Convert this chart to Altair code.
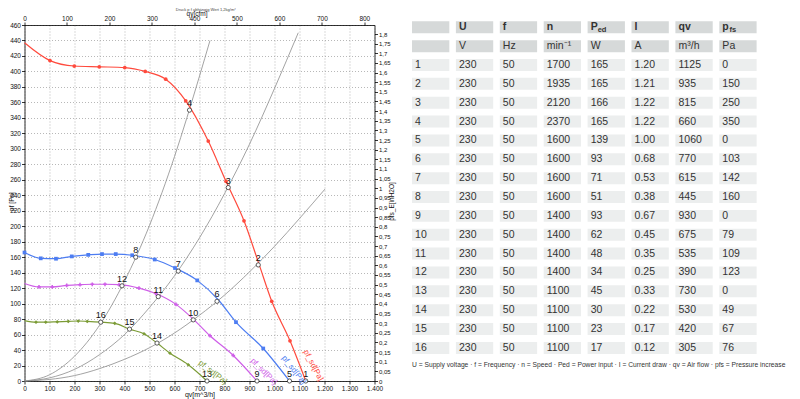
import altair as alt
import pandas as pd

# ---------------- performance curves (qv in m³/h, pf in Pa) -------------
CURVE_NAMES = ["red", "blue", "magenta", "green"]
CURVE_COLORS = ["#ff4a3d", "#4d7df2", "#cf5fe8", "#7b9b35"]
CURVE_SHAPES = ["circle", "square", "cross", "diamond"]

RED_QV = [0, 102, 199, 299, 401, 483, 565, 645, 735, 806, 878, 938, 989, 1062, 1125]
RED_P = [437, 414, 407, 406, 405, 400, 390, 362, 310, 258, 207, 151, 103, 52, 0]
RED_MK = [0, 1, 1, 1, 1, 1, 1, 1, 1, 1, 1, 0, 1, 1, 0]

BLUE_QV = [0, 65, 126, 189, 255, 310, 365, 431, 521, 602, 691, 775, 846, 955, 1060]
BLUE_P = [166, 158.5, 158, 161, 163, 164, 164, 162.5, 157, 146, 130, 105, 76, 42, 0]
BLUE_MK = [1, 1, 1, 1, 1, 1, 1, 1, 1, 1, 1, 0, 1, 1, 0]

MAG_QV = [0, 58, 111, 169, 222, 271, 322, 378, 458, 525, 606, 675, 742, 835, 930]
MAG_P = [126, 121.5, 121.5, 123.5, 124.5, 125, 125, 124.5, 120, 113, 99, 80, 58.5, 33, 0]
MAG_MK = [0, 1, 1, 1, 1, 1, 1, 1, 1, 1, 1, 0, 1, 1, 0]

GRN_QV = [0, 46, 85, 131, 175, 215, 251, 305, 361, 420, 478, 530, 582, 655, 730]
GRN_P = [78, 76, 76, 76.5, 77, 77.5, 77, 76, 74.5, 67, 61, 49, 36, 21, 0]
GRN_MK = [0, 1, 1, 1, 1, 1, 1, 0, 1, 0, 1, 0, 1, 1, 0]

# system (resistance) curves
SYS_A_QV = [0, 100, 200, 300, 400, 500, 600, 700, 742]
SYS_A_P = [0, 8, 32, 72, 129, 201, 290, 394, 440]
SYS_B_QV = [0, 100, 200, 300, 400, 500, 600, 700, 800, 900, 1000, 1095]
SYS_B_P = [0, 4, 15, 34, 60, 95, 136, 185, 242, 306, 378, 450]
SYS_C_QV = [0, 100, 200, 300, 400, 500, 600, 700, 800, 900, 1000, 1100, 1202]
SYS_C_P = [0, 2, 7, 16, 28, 43, 62, 85, 111, 141, 174, 210, 248]

# curve labels
LABEL_TEXT = "pf_sd[Pa]"
LABEL_QV = [1154, 1076, 956, 752]
LABEL_P = [20, 14, 12, 11]
LABEL_ANGLE = [62, 52, 45, 38]

# ---------------- operating point table ----------------
POINT_NO = [1, 2, 3, 4, 5, 6, 7, 8, 9, 10, 11, 12, 13, 14, 15, 16]
U_V = [230] * 16
F_HZ = [50] * 16
N_RPM = [1700, 1935, 2120, 2370, 1600, 1600, 1600, 1600, 1400, 1400, 1400, 1400, 1100, 1100, 1100, 1100]
P_ED = [165, 165, 166, 165, 139, 93, 71, 51, 93, 62, 48, 34, 45, 30, 23, 17]
I_A = ["1.20", "1.21", "1.22", "1.22", "1.00", "0.68", "0.53", "0.38", "0.67", "0.45", "0.35", "0.25",
       "0.33", "0.22", "0.17", "0.12"]
QV = [1125, 935, 815, 660, 1060, 770, 615, 445, 930, 675, 535, 390, 730, 530, 420, 305]
PFS = [0, 150, 250, 350, 0, 103, 142, 160, 0, 79, 109, 123, 0, 49, 67, 76]

HEADERS = ["", "U", "f", "n", "P", "I", "qv", "p"]
HEADER_SUB = ["", "", "", "", "ed", "", "", "fs"]
UNITS = ["", "V", "Hz", "min⁻¹", "W", "A", "m³/h", "Pa"]
FOOTER = ("U = Supply voltage · f = Frequency · n = Speed · Ped = Power input · "
          "I = Current draw · qv = Air flow · pfs = Pressure increase")
CAPTION = "Druck p f abhängig Wert 1,2kg/m³"

# ---------------- axis ticks ----------------
BOTTOM_TICKS = list(range(0, 1401, 100))
LEFT_TICKS = list(range(0, 461, 20))
TOP_TICKS = list(range(0, 801, 100))
RIGHT_TICKS = [round(0.05 * i, 2) for i in range(37)]

QV_MAX = 1400
P_MAX = 460
CFM_MAX = QV_MAX / 1.69901
INH2O_MAX = P_MAX / 249.089

AXIS_FONT = "Liberation Sans"
TABLE_FONT = "Liberation Sans Narrow, Arial Narrow, Liberation Sans, sans-serif"

# ---------------- data frames ----------------
rows = []
for name, qs, ps, mks in zip(CURVE_NAMES,
                             [RED_QV, BLUE_QV, MAG_QV, GRN_QV],
                             [RED_P, BLUE_P, MAG_P, GRN_P],
                             [RED_MK, BLUE_MK, MAG_MK, GRN_MK]):
    for q, p, m in zip(qs, ps, mks):
        rows.append({"curve": name, "qv": q, "p": p, "mk": m})
curves = pd.DataFrame(rows)

srows = []
for name, qs, ps in zip(["A", "B", "C"], [SYS_A_QV, SYS_B_QV, SYS_C_QV], [SYS_A_P, SYS_B_P, SYS_C_P]):
    for q, p in zip(qs, ps):
        srows.append({"sys": name, "qv": q, "p": p})
systems = pd.DataFrame(srows)

points = pd.DataFrame({"no": [str(n) for n in POINT_NO], "qv": QV, "p": PFS})
labels = pd.DataFrame({"curve": CURVE_NAMES, "qv": LABEL_QV, "p": LABEL_P,
                       "ang": LABEL_ANGLE, "txt": [LABEL_TEXT] * 4})

# ---------------- main plot ----------------
X_AXIS = alt.Axis(values=BOTTOM_TICKS, title="qv[m^3/h]", grid=True, gridColor="#9a9a9a",
                  gridDash=[1, 2], gridWidth=0.7, tickSize=3, labelFontSize=6.5, labelPadding=1,
                  labelOverlap=False, labelFlush=False,
                  labelExpr="datum.value >= 1000 ? replace(format(datum.value, ','), ',', '.') : format(datum.value, 'd')",
                  titleFontSize=7, titleX=175, titleY=13, titleBaseline="middle", titleAngle=0)
Y_AXIS = alt.Axis(values=LEFT_TICKS, title="pf [Pa]", grid=True, gridColor="#9a9a9a",
                  gridDash=[1, 2], gridWidth=0.7, tickSize=3, labelFontSize=6.5, labelPadding=1,
                  labelOverlap=False, labelFlush=False, format="d",
                  titleFontSize=6.5, titleX=-10.5, titleY=176, titleAngle=270,
                  titleAlign="center", titleBaseline="bottom")
X = alt.X("qv:Q", scale=alt.Scale(domain=[0, QV_MAX], nice=False, zero=False), axis=X_AXIS)
Y = alt.Y("p:Q", scale=alt.Scale(domain=[0, P_MAX], nice=False, zero=False), axis=Y_AXIS)
COLOR = alt.Color("curve:N", scale=alt.Scale(domain=CURVE_NAMES, range=CURVE_COLORS), legend=None)

sys_layer = alt.Chart(systems).mark_line(interpolate="monotone", color="#8c8c8c", strokeWidth=0.8).encode(
    x=X, y=Y, detail="sys:N")
line_layer = alt.Chart(curves).mark_line(interpolate="monotone", strokeWidth=1.2).encode(
    x=X, y=Y, color=COLOR)
marker_layer = alt.Chart(curves).transform_filter("datum.mk == 1").mark_point(
    filled=True, size=14, opacity=1).encode(
    x=X, y=Y, color=COLOR,
    shape=alt.Shape("curve:N", scale=alt.Scale(domain=CURVE_NAMES, range=CURVE_SHAPES), legend=None))
circle_layer = alt.Chart(points).mark_point(shape="circle", filled=True, fill="white", stroke="#333333",
                                            strokeWidth=0.8, size=18, opacity=1).encode(x=X, y=Y)
number_layer = alt.Chart(points).mark_text(dy=-7, fontSize=9, font=AXIS_FONT, color="#111111").encode(
    x=X, y=Y, text="no:N")
curve_label_layer = alt.Chart(labels).mark_text(fontSize=8, font=AXIS_FONT, align="center",
                                                baseline="middle").encode(
    x=X, y=Y, text="txt:N", color=COLOR, angle=alt.Angle("ang:Q", scale=None))

plot = alt.layer(sys_layer, line_layer, marker_layer, circle_layer, number_layer, curve_label_layer)

# secondary axes: cfm (top) and inH2O (right)
axes2 = alt.Chart(pd.DataFrame({"cfm": [0], "inh2o": [0]})).mark_point(opacity=0).encode(
    x=alt.X("cfm:Q", scale=alt.Scale(domain=[0, CFM_MAX], nice=False, zero=False),
            axis=alt.Axis(orient="top", values=TOP_TICKS, title="qv[cfm]", grid=False, tickSize=3,
                          labelFontSize=6.5, labelPadding=1, labelOverlap=False, labelFlush=False,
                          titleFontSize=6.5, titleX=172, titleY=-12, titleBaseline="middle")),
    y=alt.Y("inh2o:Q", scale=alt.Scale(domain=[0, INH2O_MAX], nice=False, zero=False),
            axis=alt.Axis(orient="right", values=RIGHT_TICKS, title="pfs_E[inH2O]", grid=False,
                          tickSize=3, labelFontSize=6, labelPadding=1, labelOverlap=False,
                          labelFlush=False,
                          labelExpr="replace(format(datum.value, '.2~f'), '.', ',')",
                          titleFontSize=6.5, titleX=17, titleY=176, titleAngle=270,
                          titleAlign="center", titleBaseline="middle")))

# ---------------- table ----------------
CELL_W = 0.85
CELL_H = 0.636
cells = []
for r in range(18):
    if r == 0:
        vals = HEADERS
    elif r == 1:
        vals = UNITS
    else:
        k = r - 2
        vals = [str(POINT_NO[k]), str(U_V[k]), str(F_HZ[k]), str(N_RPM[k]), str(P_ED[k]),
                I_A[k], str(QV[k]), str(PFS[k])]
    for c in range(8):
        cells.append({"c0": c, "c1": c + CELL_W, "r0": r, "r1": r + CELL_H,
                      "tx": c + 0.07, "ty": r + CELL_H / 2, "text": vals[c],
                      "bg": "#d6d9d9" if r < 2 else "#eceeee", "bold": r == 0})
cells = pd.DataFrame(cells)
subs = pd.DataFrame([{"tx": c + 0.07 + 0.16, "ty": CELL_H / 2, "text": s}
                     for c, s in enumerate(HEADER_SUB) if s])
footer = pd.DataFrame({"tx": [0.0], "ty": [18.2], "text": [FOOTER]})
caption = pd.DataFrame({"tx": [-5.38], "ty": [-0.62], "text": [CAPTION]})

TX = alt.Scale(domain=[0, 8], range=[387.5, 738.7], nice=False, zero=False)
TY = alt.Scale(domain=[0, 19], range=[-3.7, 354.6], nice=False, zero=False)
TXE = alt.X("tx:Q", scale=TX, axis=None)
TYE = alt.Y("ty:Q", scale=TY, axis=None)

rect_layer = alt.Chart(cells).mark_rect().encode(
    x=alt.X("c0:Q", scale=TX, axis=None), x2="c1:Q",
    y=alt.Y("r0:Q", scale=TY, axis=None), y2="r1:Q",
    fill=alt.Fill("bg:N", scale=None))
text_layer = alt.Chart(cells).transform_filter("!datum.bold").mark_text(
    align="left", baseline="middle", font=TABLE_FONT, fontSize=10.5, color="#333333").encode(
    x=TXE, y=TYE, text="text:N")
bold_layer = alt.Chart(cells).transform_filter("datum.bold").mark_text(
    align="left", baseline="middle", font=TABLE_FONT, fontSize=10.5, fontWeight="bold",
    color="#333333").encode(x=TXE, y=TYE, text="text:N")
sub_layer = alt.Chart(subs).mark_text(
    align="left", baseline="middle", font=TABLE_FONT, fontSize=7.5, fontWeight="bold", dy=3,
    color="#333333").encode(x=TXE, y=TYE, text="text:N")
footer_layer = alt.Chart(footer).mark_text(
    align="left", baseline="middle", font=TABLE_FONT, fontSize=6.7, color="#333333").encode(
    x=TXE, y=TYE, text="text:N")
caption_layer = alt.Chart(caption).mark_text(
    align="left", baseline="middle", font=AXIS_FONT, fontSize=4, color="#444444").encode(
    x=TXE, y=TYE, text="text:N")

table = alt.layer(rect_layer, text_layer, bold_layer, sub_layer, footer_layer, caption_layer)

chart = alt.layer(plot, axes2, table).resolve_scale(
    x="independent", y="independent"
).properties(
    width=350, height=356,
    autosize=alt.AutoSizeParams(type="none"),
    padding={"left": 16.5, "top": 17, "right": 417.5, "bottom": 18},
).configure_view(stroke=None).configure_axis(
    labelFont=AXIS_FONT, titleFont=AXIS_FONT, labelColor="#111111", titleColor="#111111",
    domainColor="#000000", tickColor="#000000", domainWidth=0.8, tickWidth=0.8,
    titleFontWeight="normal"
)

chart.save("out.html", embed_options={"renderer": "svg", "actions": False})
